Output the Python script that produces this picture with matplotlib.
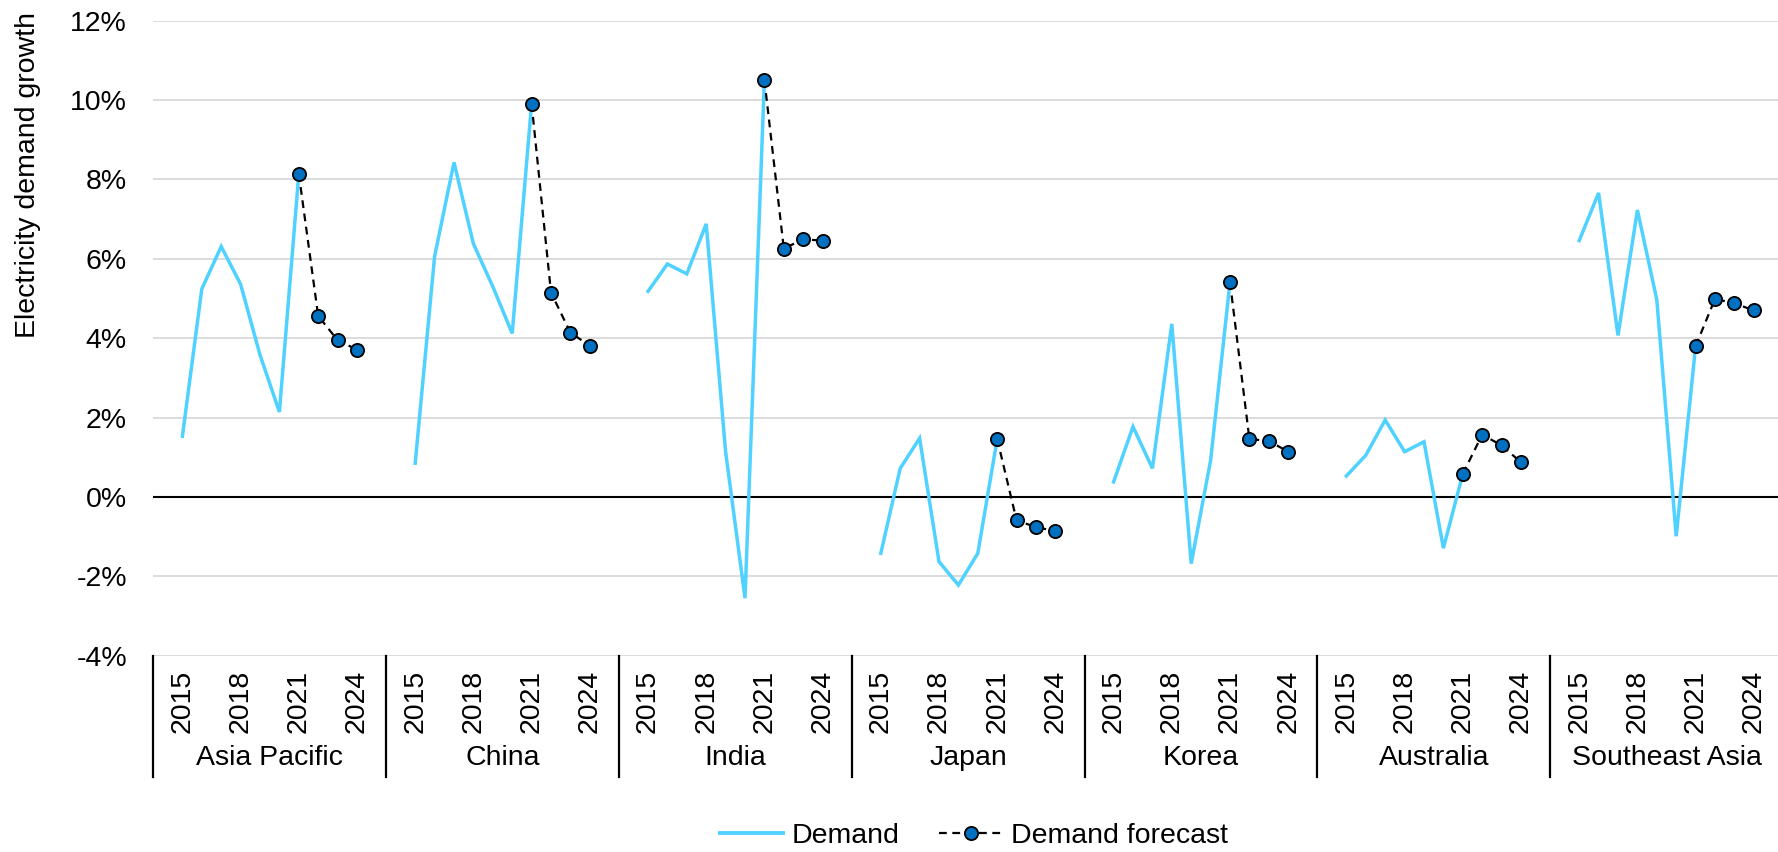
import numpy as np
import matplotlib
matplotlib.use("Agg")
import matplotlib.pyplot as plt
import matplotlib.transforms as mtransforms
from matplotlib.lines import Line2D

plt.rcParams['font.family'] = ['Liberation Sans', 'DejaVu Sans']

FONT_SIZE = 20.5
DEMAND_COLOR = '#4FD2FF'
MARKER_COLOR = '#0070C0'
GRID_COLOR = '#DCDCDC'

regions = ["Asia Pacific", "China", "India", "Japan", "Korea", "Australia", "Southeast Asia"]
years = np.arange(2015, 2025)
year_labels = ["2015", "2018", "2021", "2024"]

# demand growth (%), 2015-2021
demand_asia_pacific = [1.53, 5.24, 6.31, 5.36, 3.58, 2.14, 8.14]
demand_china = [0.85, 6.06, 8.43, 6.38, 5.30, 4.12, 9.91]
demand_india = [5.18, 5.87, 5.62, 6.88, 1.14, -2.55, 10.51]
demand_japan = [-1.42, 0.72, 1.48, -1.63, -2.22, -1.42, 1.46]
demand_korea = [0.38, 1.77, 0.72, 4.36, -1.68, 0.92, 5.41]
demand_australia = [0.53, 1.05, 1.94, 1.14, 1.39, -1.29, 0.58]
demand_southeast_asia = [6.46, 7.66, 4.07, 7.23, 4.97, -0.99, 3.80]

# demand forecast (%), 2021-2024
forecast_asia_pacific = [8.14, 4.56, 3.95, 3.71]
forecast_china = [9.91, 5.15, 4.14, 3.81]
forecast_india = [10.51, 6.26, 6.49, 6.46]
forecast_japan = [1.46, -0.59, -0.76, -0.86]
forecast_korea = [5.41, 1.46, 1.41, 1.14]
forecast_australia = [0.58, 1.57, 1.30, 0.87]
forecast_southeast_asia = [3.80, 4.99, 4.88, 4.70]

demand = [demand_asia_pacific, demand_china, demand_india, demand_japan,
          demand_korea, demand_australia, demand_southeast_asia]
forecast = [forecast_asia_pacific, forecast_china, forecast_india, forecast_japan,
            forecast_korea, forecast_australia, forecast_southeast_asia]

SLOTS = 12  # one empty slot either side of the ten years in every group

fig = plt.figure(figsize=(17.78, 8.52), dpi=100)
W, H = 1778.0, 852.0
ax = fig.add_axes([153.3 / W, 1 - 655.7 / H, 1 - 153.3 / W, (655.7 - 20.7) / H])

for g in range(len(regions)):
    x0 = g * SLOTS + 1.5
    xd = x0 + np.arange(len(demand[g]))
    ax.plot(xd, demand[g], color=DEMAND_COLOR, lw=2.5, zorder=3, solid_joinstyle='miter')
    xf = x0 + np.arange(len(demand[g]) - 1, len(demand[g]) - 1 + len(forecast[g]))
    ax.plot(xf, forecast[g], color='black', lw=1.6, dashes=(3.5, 2.5), marker='o',
            markersize=9.5, markerfacecolor=MARKER_COLOR, markeredgecolor='black',
            markeredgewidth=1.3, zorder=4)

ax.set_ylim(-4, 12)
ax.set_xlim(0, (W - 153.3) / 19.4)
ax.set_yticks(np.arange(-4, 13, 2))
ax.set_yticklabels(['{0}%'.format(v) for v in range(-4, 13, 2)], fontsize=FONT_SIZE)
ax.yaxis.grid(True, color=GRID_COLOR, lw=1.4)
ax.set_axisbelow(True)
ax.axhline(0, color='black', lw=1.5, zorder=2)
for s in ax.spines.values():
    s.set_visible(False)

ticks = []
for g in range(len(regions)):
    for lab in year_labels:
        ticks.append(g * SLOTS + 1.5 + list(years).index(int(lab)))
ax.set_xticks(ticks)
ax.set_xticklabels(year_labels * len(regions), rotation=90, fontsize=FONT_SIZE)
ax.tick_params(axis='x', length=0, pad=10)
ax.tick_params(axis='y', length=0, pad=19)

trans = mtransforms.blended_transform_factory(ax.transData, fig.transFigure)
for g, name in enumerate(regions):
    ax.text(g * SLOTS + SLOTS / 2.0, 1 - 758 / H, name, transform=trans,
            ha='center', va='center', fontsize=FONT_SIZE)
    ax.add_line(Line2D([g * SLOTS, g * SLOTS], [1 - 656 / H, 1 - 777 / H], transform=trans,
                       color='black', lw=1.6, clip_on=False))

fig.text(28 / W, 1 - 12 / H, "Electricity demand growth", rotation=90,
         ha='center', va='top', fontsize=FONT_SIZE)

handles = [Line2D([], [], color=DEMAND_COLOR, lw=2.8),
           Line2D([], [], color='black', lw=1.6, dashes=(3.5, 2.5), marker='o', markersize=9.5,
                  markerfacecolor=MARKER_COLOR, markeredgecolor='black', markeredgewidth=1.3)]
fig.legend(handles, ["Demand", "Demand forecast"], loc='center', ncol=2, frameon=False,
           bbox_to_anchor=(974 / W, 1 - 836 / H), fontsize=FONT_SIZE,
           handlelength=2.2, handletextpad=0.3, columnspacing=1.4)

fig.savefig("out.png", dpi=100)
